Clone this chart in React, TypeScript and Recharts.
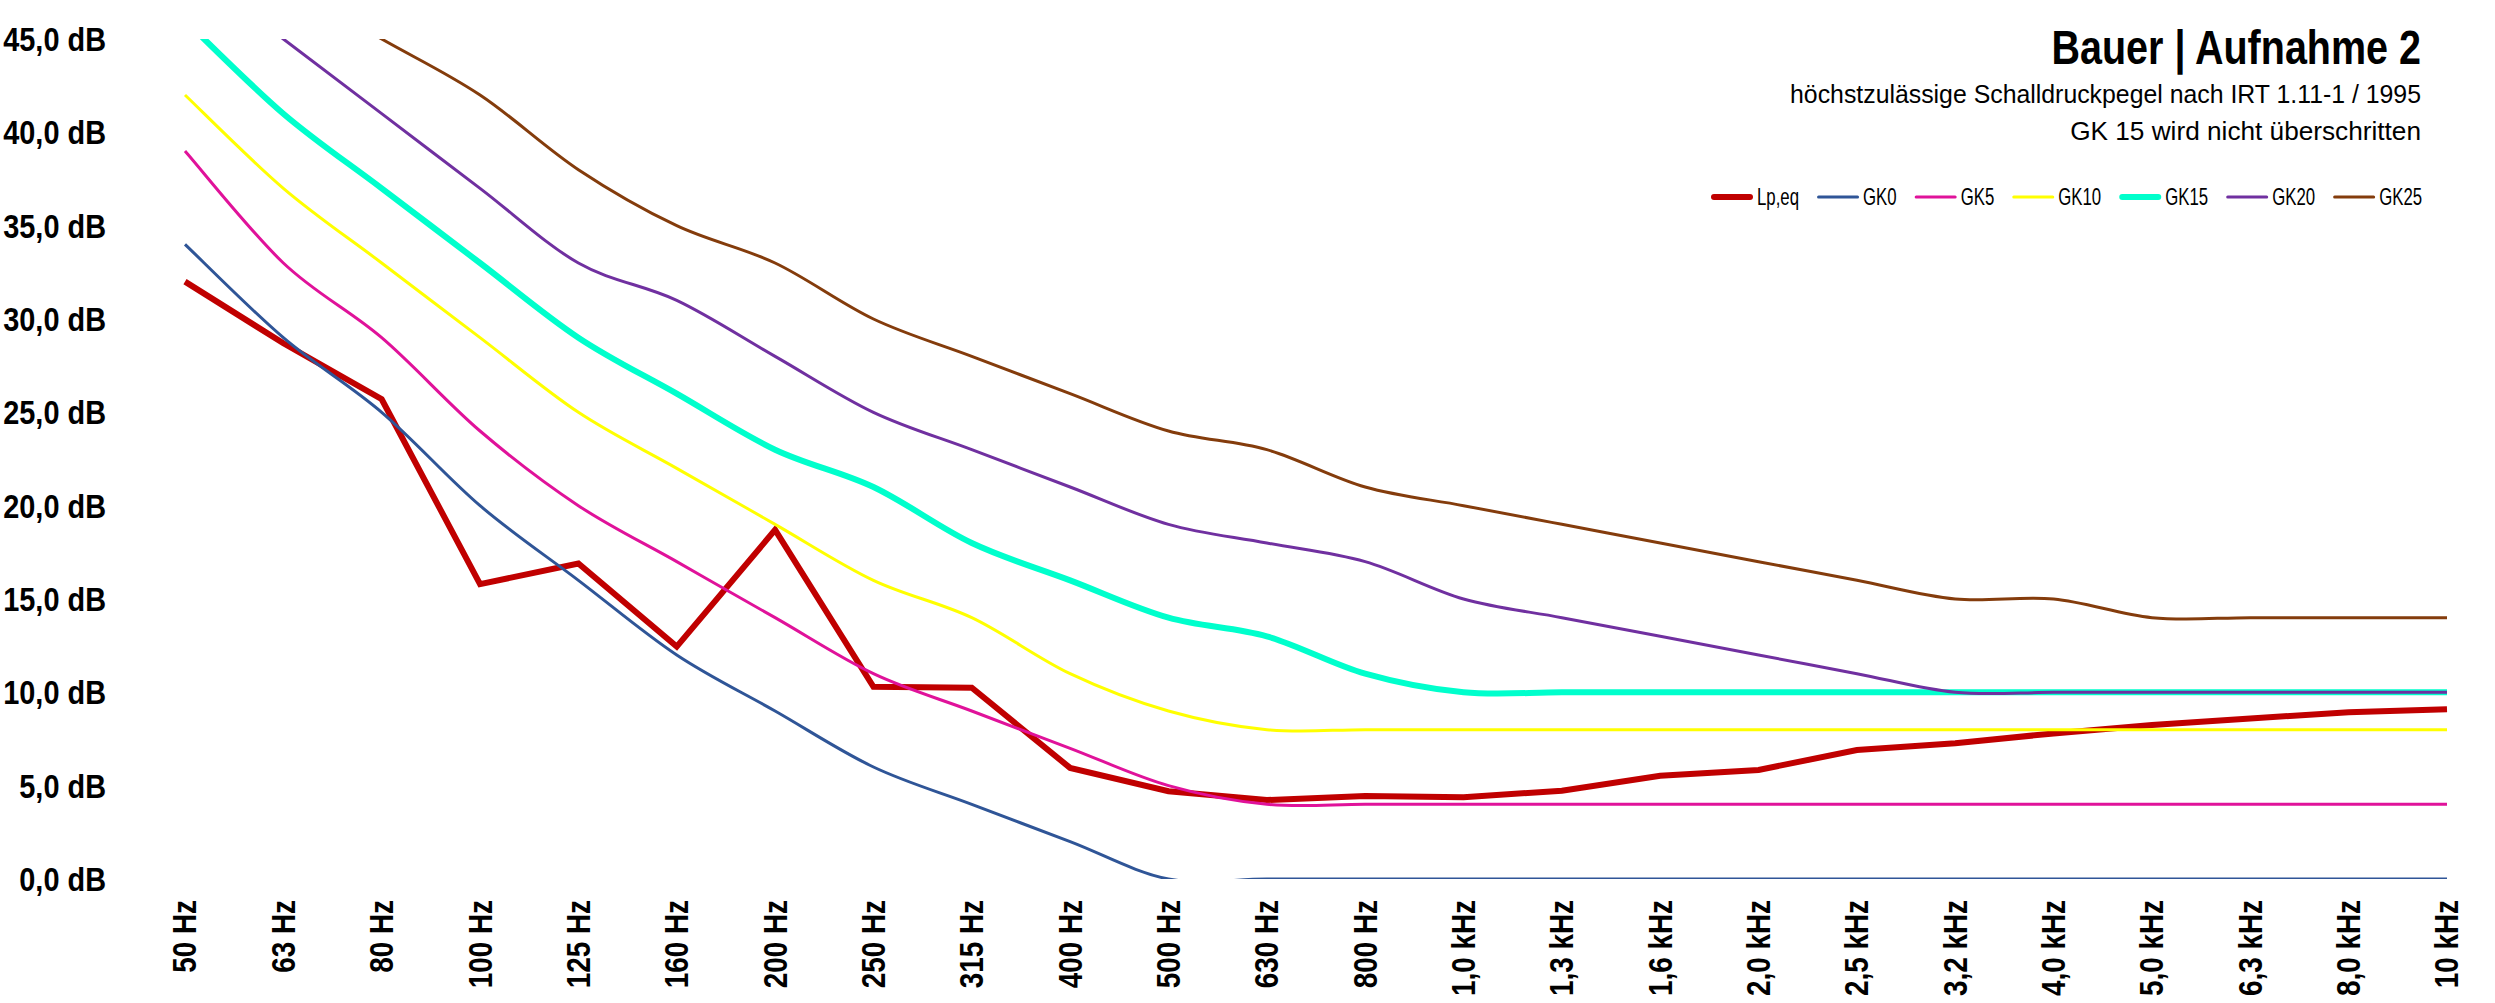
import React from 'react';
import { LineChart, Line, XAxis, YAxis, Legend } from 'recharts';

const categories = [
  '50 Hz', '63 Hz', '80 Hz', '100 Hz', '125 Hz', '160 Hz', '200 Hz', '250 Hz',
  '315 Hz', '400 Hz', '500 Hz', '630 Hz', '800 Hz', '1,0 kHz', '1,3 kHz', '1,6 kHz',
  '2,0 kHz', '2,5 kHz', '3,2 kHz', '4,0 kHz', '5,0 kHz', '6,3 kHz', '8,0 kHz', '10 kHz',
];

const lpEq = [32.0, 28.7, 25.7, 15.8, 16.9, 12.45, 18.7, 10.3, 10.25, 5.95, 4.7, 4.23, 4.45, 4.38, 4.73, 5.53, 5.84, 6.91, 7.27, 7.8, 8.25, 8.6, 8.93, 9.1];
const gk0 = [34, 29, 25, 20, 16, 12, 9, 6, 4, 2, 0, 0, 0, 0, 0, 0, 0, 0, 0, 0, 0, 0, 0, 0];
const gk5 = [39, 33, 29, 24, 20, 17, 14, 11, 9, 7, 5, 4, 4, 4, 4, 4, 4, 4, 4, 4, 4, 4, 4, 4];
const gk10 = [42, 37, 33, 29, 25, 22, 19, 16, 14, 11, 9, 8, 8, 8, 8, 8, 8, 8, 8, 8, 8, 8, 8, 8];
const gk15 = [46, 41, 37, 33, 29, 26, 23, 21, 18, 16, 14, 13, 11, 10, 10, 10, 10, 10, 10, 10, 10, 10, 10, 10];
const gk20 = [49, 45, 41, 37, 33, 31, 28, 25, 23, 21, 19, 18, 17, 15, 14, 13, 12, 11, 10, 10, 10, 10, 10, 10];
const gk25 = [51, 48, 45, 42, 38, 35, 33, 30, 28, 26, 24, 23, 21, 20, 19, 18, 17, 16, 15, 15, 14, 14, 14, 14];

const yTicks = [0, 5, 10, 15, 20, 25, 30, 35, 40, 45];
const seriesNames = ['Lp,eq', 'GK0', 'GK5', 'GK10', 'GK15', 'GK20', 'GK25'];

const titleText = 'Bauer | Aufnahme 2';
const subtitle1 = 'höchstzulässige Schalldruckpegel nach IRT 1.11-1 / 1995';
const subtitle2 = 'GK 15 wird nicht überschritten';

const data = categories.map((c, i) => ({
  freq: c,
  lp: lpEq[i],
  gk0: gk0[i],
  gk5: gk5[i],
  gk10: gk10[i],
  gk15: gk15[i],
  gk20: gk20[i],
  gk25: gk25[i],
}));

const FONT = "'Liberation Sans', Arial, sans-serif";
const NARROW = 0.82;

let _ctx: any = null;
function measure(text: string, size: number, weight: number) {
  try {
    if (!_ctx) _ctx = document.createElement('canvas').getContext('2d');
    _ctx.font = `${weight} ${size}px "Liberation Sans"`;
    return _ctx.measureText(text).width;
  } catch (e) {
    return text.length * size * 0.5;
  }
}

// Excel-like smoothing (Catmull-Rom via cubic Bezier)
function excelSmooth(context: any) {
  let pts: number[][] = [];
  return {
    areaStart() {},
    areaEnd() {},
    lineStart() {
      pts = [];
    },
    point(x: number, y: number) {
      pts.push([+x, +y]);
    },
    lineEnd() {
      const n = pts.length;
      if (n === 0) return;
      context.moveTo(pts[0][0], pts[0][1]);
      if (n === 1) return;
      for (let i = 0; i < n - 1; i++) {
        const p0 = pts[i === 0 ? 0 : i - 1];
        const p1 = pts[i];
        const p2 = pts[i + 1];
        const p3 = pts[i + 2 < n ? i + 2 : n - 1];
        const c1x = p1[0] + (p2[0] - p0[0]) / 6;
        const c1y = p1[1] + (p2[1] - p0[1]) / 6;
        const c2x = p2[0] - (p3[0] - p1[0]) / 6;
        const c2y = p2[1] - (p3[1] - p1[1]) / 6;
        context.bezierCurveTo(c1x, c1y, c2x, c2y, p2[0], p2[1]);
      }
    },
  };
}

const fmtY = (v: number) => v.toFixed(1).replace('.', ',') + ' dB';

const XTick = (props: any) => {
  const { x, y, payload } = props;
  return (
    <g transform={`translate(${x},${y}) rotate(-90) scale(${NARROW},1)`}>
      <text
        textAnchor="end"
        dominantBaseline="central"
        fontFamily={FONT}
        fontWeight={700}
        fontSize={34}
        fill="#000"
      >
        {payload.value}
      </text>
    </g>
  );
};

const YTick = (props: any) => {
  const { x, y, payload } = props;
  return (
    <g transform={`translate(${x},${y}) scale(0.85,1)`}>
      <text
        textAnchor="end"
        dominantBaseline="central"
        fontFamily={FONT}
        fontWeight={700}
        fontSize={34}
        fill="#000"
      >
        {fmtY(payload.value)}
      </text>
    </g>
  );
};

const legendWidths: Record<string, number> = { 'Lp,eq': 6, GK15: 6 };

const renderLegend = (props: any) => {
  const payload = [...(props.payload || [])].sort(
    (a: any, b: any) => seriesNames.indexOf(a.value) - seriesNames.indexOf(b.value)
  );
  const LINE = 42;
  const GAP1 = 4;
  const GAP2 = 18;
  const SIZE = 24;
  const SC = 0.7;
  const tw = payload.map((e: any) => measure(String(e.value), SIZE, 400) * SC);
  let total = 0;
  tw.forEach((w: number, i: number) => {
    total += LINE + GAP1 + w + (i < tw.length - 1 ? GAP2 : 0);
  });
  let cx = 0;
  return (
    <svg width={Math.ceil(total)} height={30} style={{ display: 'block', overflow: 'visible' }}>
      {payload.map((e: any, i: number) => {
        const x = cx;
        cx += LINE + GAP1 + tw[i] + GAP2;
        const sw = legendWidths[e.value] || 3;
        return (
          <g key={e.value}>
            <line x1={x + sw / 2} x2={x + LINE - sw / 2} y1={15} y2={15} stroke={e.color} strokeWidth={sw} strokeLinecap="round" />
            <g transform={`translate(${x + LINE + GAP1},${23}) scale(${SC},1)`}>
              <text fontFamily={FONT} fontSize={SIZE} fill="#000">{e.value}</text>
            </g>
          </g>
        );
      })}
    </svg>
  );
};

const TitleLine = (props: { text: string; y: number; size: number; weight: number; width: number }) => {
  const natural = measure(props.text, props.size, props.weight) || props.width;
  const sc = props.width / natural;
  return (
    <g transform={`translate(2421,${props.y}) scale(${sc},1)`}>
      <text textAnchor="end" fontFamily={FONT} fontWeight={props.weight} fontSize={props.size} fill="#000">
        {props.text}
      </text>
    </g>
  );
};

export default function App() {
  return (
    <div style={{ position: 'absolute', left: 0, top: 0, width: 2495, height: 1003, background: '#fff' }}>
      <LineChart
        width={2495}
        height={1003}
        data={data}
        margin={{ top: 39, right: 48, bottom: 0, left: 0 }}
      >
        <XAxis
          dataKey="freq"
          scale="point"
          padding={{ left: 0, right: 0 }}
          axisLine={false}
          tickLine={false}
          tickSize={0}
          tickMargin={21}
          height={124}
          interval={0}
          tick={<XTick />}
        />
        <YAxis
          domain={[0, 45]}
          allowDataOverflow
          ticks={yTicks}
          axisLine={false}
          tickLine={false}
          tickSize={0}
          tickMargin={79}
          width={185}
          interval={0}
          tick={<YTick />}
        />
        <Legend
          layout="vertical"
          verticalAlign="middle"
          align="center"
          wrapperStyle={{ top: 182, right: 72 }}
          content={renderLegend}
        />
        <Line dataKey="lp" name="Lp,eq" stroke="#C00000" strokeWidth={6} type="linear" dot={false} activeDot={false} isAnimationActive={false} />
        <Line dataKey="gk0" name="GK0" stroke="#2F5597" strokeWidth={3} type={excelSmooth as any} dot={false} activeDot={false} isAnimationActive={false} />
        <Line dataKey="gk5" name="GK5" stroke="#E0129A" strokeWidth={3} type={excelSmooth as any} dot={false} activeDot={false} isAnimationActive={false} />
        <Line dataKey="gk10" name="GK10" stroke="#FFFF00" strokeWidth={3} type={excelSmooth as any} dot={false} activeDot={false} isAnimationActive={false} />
        <Line dataKey="gk15" name="GK15" stroke="#00FFCC" strokeWidth={6} type={excelSmooth as any} dot={false} activeDot={false} isAnimationActive={false} />
        <Line dataKey="gk20" name="GK20" stroke="#7030A0" strokeWidth={3} type={excelSmooth as any} dot={false} activeDot={false} isAnimationActive={false} />
        <Line dataKey="gk25" name="GK25" stroke="#843C0C" strokeWidth={3} type={excelSmooth as any} dot={false} activeDot={false} isAnimationActive={false} />
      </LineChart>
      <svg width={2495} height={160} style={{ position: 'absolute', left: 0, top: 0, pointerEvents: 'none' }}>
        <TitleLine text={titleText} y={64} size={49} weight={700} width={371} />
        <TitleLine text={subtitle1} y={103} size={25} weight={400} width={632} />
        <TitleLine text={subtitle2} y={140} size={25} weight={400} width={351} />
      </svg>
    </div>
  );
}
